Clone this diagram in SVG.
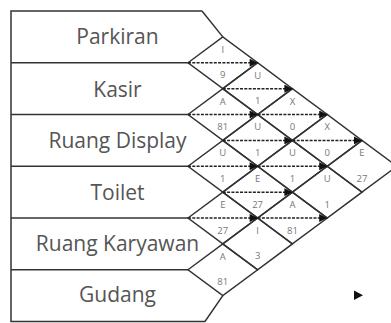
<svg xmlns="http://www.w3.org/2000/svg" width="391" height="323" viewBox="0 0 391 323">
<style>
.frame{fill:none;stroke:#333;stroke-width:1.5}
.dia{fill:none;stroke:#333;stroke-width:1.5;stroke-linejoin:miter}
.dep{font-family:"Open Sans","Noto Sans","DejaVu Sans",sans-serif;font-size:21px;fill:#555;text-anchor:middle}
.lbl{font-family:"Open Sans","Noto Sans","DejaVu Sans",sans-serif;font-size:9.5px;fill:#777;text-anchor:middle}
.arr{stroke:#222;stroke-width:1.5;stroke-dasharray:3 1.3;fill:none}
</style>
<defs>
<marker id="ah" viewBox="0 0 10 10" refX="10" refY="5" markerUnits="userSpaceOnUse" markerWidth="9" markerHeight="8" orient="auto">
<path d="M0,0 L10,5 L0,10 z" fill="#111"/>
</marker>
</defs>
<rect width="391" height="323" fill="#fff"/>
<g id="frame">
<path class="frame" d="M202,11 L11,11 L11,321.5 L205,321.5 L222.8,295.6 M202,11 L222.8,36.9"/>
</g>
<g id="rows">
<g id="row-parkiran"><text class="dep" x="117.5" y="44">Parkiran</text></g>
<line class="frame" x1="11" y1="62.75" x2="188" y2="62.75"/>
<g id="row-kasir"><text class="dep" x="117.5" y="96.5">Kasir</text></g>
<line class="frame" x1="11" y1="114.5" x2="188" y2="114.5"/>
<g id="row-display"><text class="dep" x="117.5" y="148">Ruang Display</text></g>
<line class="frame" x1="11" y1="166.25" x2="188" y2="166.25"/>
<g id="row-toilet"><text class="dep" x="117.5" y="199.5">Toilet</text></g>
<line class="frame" x1="11" y1="218" x2="188" y2="218"/>
<g id="row-karyawan"><text class="dep" x="117.5" y="251">Ruang Karyawan</text></g>
<line class="frame" x1="11" y1="269.75" x2="188" y2="269.75"/>
<g id="row-gudang"><text class="dep" x="117.5" y="302">Gudang</text></g>
</g>
<g id="diamonds">
<g id="d01"><path class="dia" d="M188,62.75 L222.8,36.875 L257.6,62.75 L222.8,88.625 Z"/><text class="lbl" x="222.8" y="52.5">I</text><text class="lbl" x="222.8" y="78.2">9</text></g>
<g id="d12"><path class="dia" d="M188,114.5 L222.8,88.625 L257.6,114.5 L222.8,140.375 Z"/><text class="lbl" x="222.8" y="104.5">A</text><text class="lbl" x="222.8" y="130">81</text></g>
<g id="d23"><path class="dia" d="M188,166.25 L222.8,140.375 L257.6,166.25 L222.8,192.125 Z"/><text class="lbl" x="222.8" y="156.2">U</text><text class="lbl" x="222.8" y="181.7">1</text></g>
<g id="d34"><path class="dia" d="M188,218 L222.8,192.125 L257.6,218 L222.8,243.875 Z"/><text class="lbl" x="222.8" y="208">E</text><text class="lbl" x="222.8" y="233.5">27</text></g>
<g id="d45"><path class="dia" d="M188,269.75 L222.8,243.875 L257.6,269.75 L222.8,295.625 Z"/><text class="lbl" x="222.8" y="259.7">A</text><text class="lbl" x="222.8" y="285.2">81</text></g>
<g id="d02"><path class="dia" d="M222.8,88.625 L257.6,62.75 L292.4,88.625 L257.6,114.5 Z"/><text class="lbl" x="257.6" y="78.6">U</text><text class="lbl" x="257.6" y="104.1">1</text></g>
<g id="d13"><path class="dia" d="M222.8,140.375 L257.6,114.5 L292.4,140.375 L257.6,166.25 Z"/><text class="lbl" x="257.6" y="130.4">U</text><text class="lbl" x="257.6" y="155.9">1</text></g>
<g id="d24"><path class="dia" d="M222.8,192.125 L257.6,166.25 L292.4,192.125 L257.6,218 Z"/><text class="lbl" x="257.6" y="182.1">E</text><text class="lbl" x="257.6" y="207.6">27</text></g>
<g id="d35"><path class="dia" d="M222.8,243.875 L257.6,218 L292.4,243.875 L257.6,269.75 Z"/><text class="lbl" x="257.6" y="233.9">I</text><text class="lbl" x="257.6" y="259.4">3</text></g>
<g id="d03"><path class="dia" d="M257.6,114.5 L292.4,88.625 L327.2,114.5 L292.4,140.375 Z"/><text class="lbl" x="292.4" y="104.5">X</text><text class="lbl" x="292.4" y="130">0</text></g>
<g id="d14"><path class="dia" d="M257.6,166.25 L292.4,140.375 L327.2,166.25 L292.4,192.125 Z"/><text class="lbl" x="292.4" y="156.2">U</text><text class="lbl" x="292.4" y="181.7">1</text></g>
<g id="d25"><path class="dia" d="M257.6,218 L292.4,192.125 L327.2,218 L292.4,243.875 Z"/><text class="lbl" x="292.4" y="208">A</text><text class="lbl" x="292.4" y="233.5">81</text></g>
<g id="d04"><path class="dia" d="M292.4,140.375 L327.2,114.5 L362,140.375 L327.2,166.25 Z"/><text class="lbl" x="327.2" y="130.4">X</text><text class="lbl" x="327.2" y="155.9">0</text></g>
<g id="d15"><path class="dia" d="M292.4,192.125 L327.2,166.25 L362,192.125 L327.2,218 Z"/><text class="lbl" x="327.2" y="182.1">U</text><text class="lbl" x="327.2" y="207.6">1</text></g>
<g id="d05"><path class="dia" d="M327.2,166.25 L362,140.375 L396.8,166.25 L362,192.125 Z"/><text class="lbl" x="362" y="156.2">E</text><text class="lbl" x="362" y="181.7">27</text></g>
</g>
<g id="connectors">
<line class="arr" x1="188" y1="62.75" x2="257.6" y2="62.75" marker-end="url(#ah)"/>
<line class="arr" x1="222.8" y1="88.625" x2="292.4" y2="88.625" marker-end="url(#ah)"/>
<line class="arr" x1="188" y1="114.5" x2="257.6" y2="114.5" marker-end="url(#ah)"/>
<line class="arr" x1="257.6" y1="114.5" x2="327.2" y2="114.5" marker-end="url(#ah)"/>
<line class="arr" x1="222.8" y1="140.375" x2="292.4" y2="140.375" marker-end="url(#ah)"/>
<line class="arr" x1="292.4" y1="140.375" x2="362" y2="140.375" marker-end="url(#ah)"/>
<line class="arr" x1="188" y1="166.25" x2="257.6" y2="166.25" marker-end="url(#ah)"/>
<line class="arr" x1="257.6" y1="166.25" x2="327.2" y2="166.25" marker-end="url(#ah)"/>
<line class="arr" x1="222.8" y1="192.125" x2="292.4" y2="192.125" marker-end="url(#ah)"/>
<line class="arr" x1="188" y1="218" x2="257.6" y2="218" marker-end="url(#ah)"/>
<line class="arr" x1="257.6" y1="218" x2="327.2" y2="218" marker-end="url(#ah)"/>
<polygon points="354,290.5 363,295.3 354,300" fill="#111"/>
</g>
</svg>
